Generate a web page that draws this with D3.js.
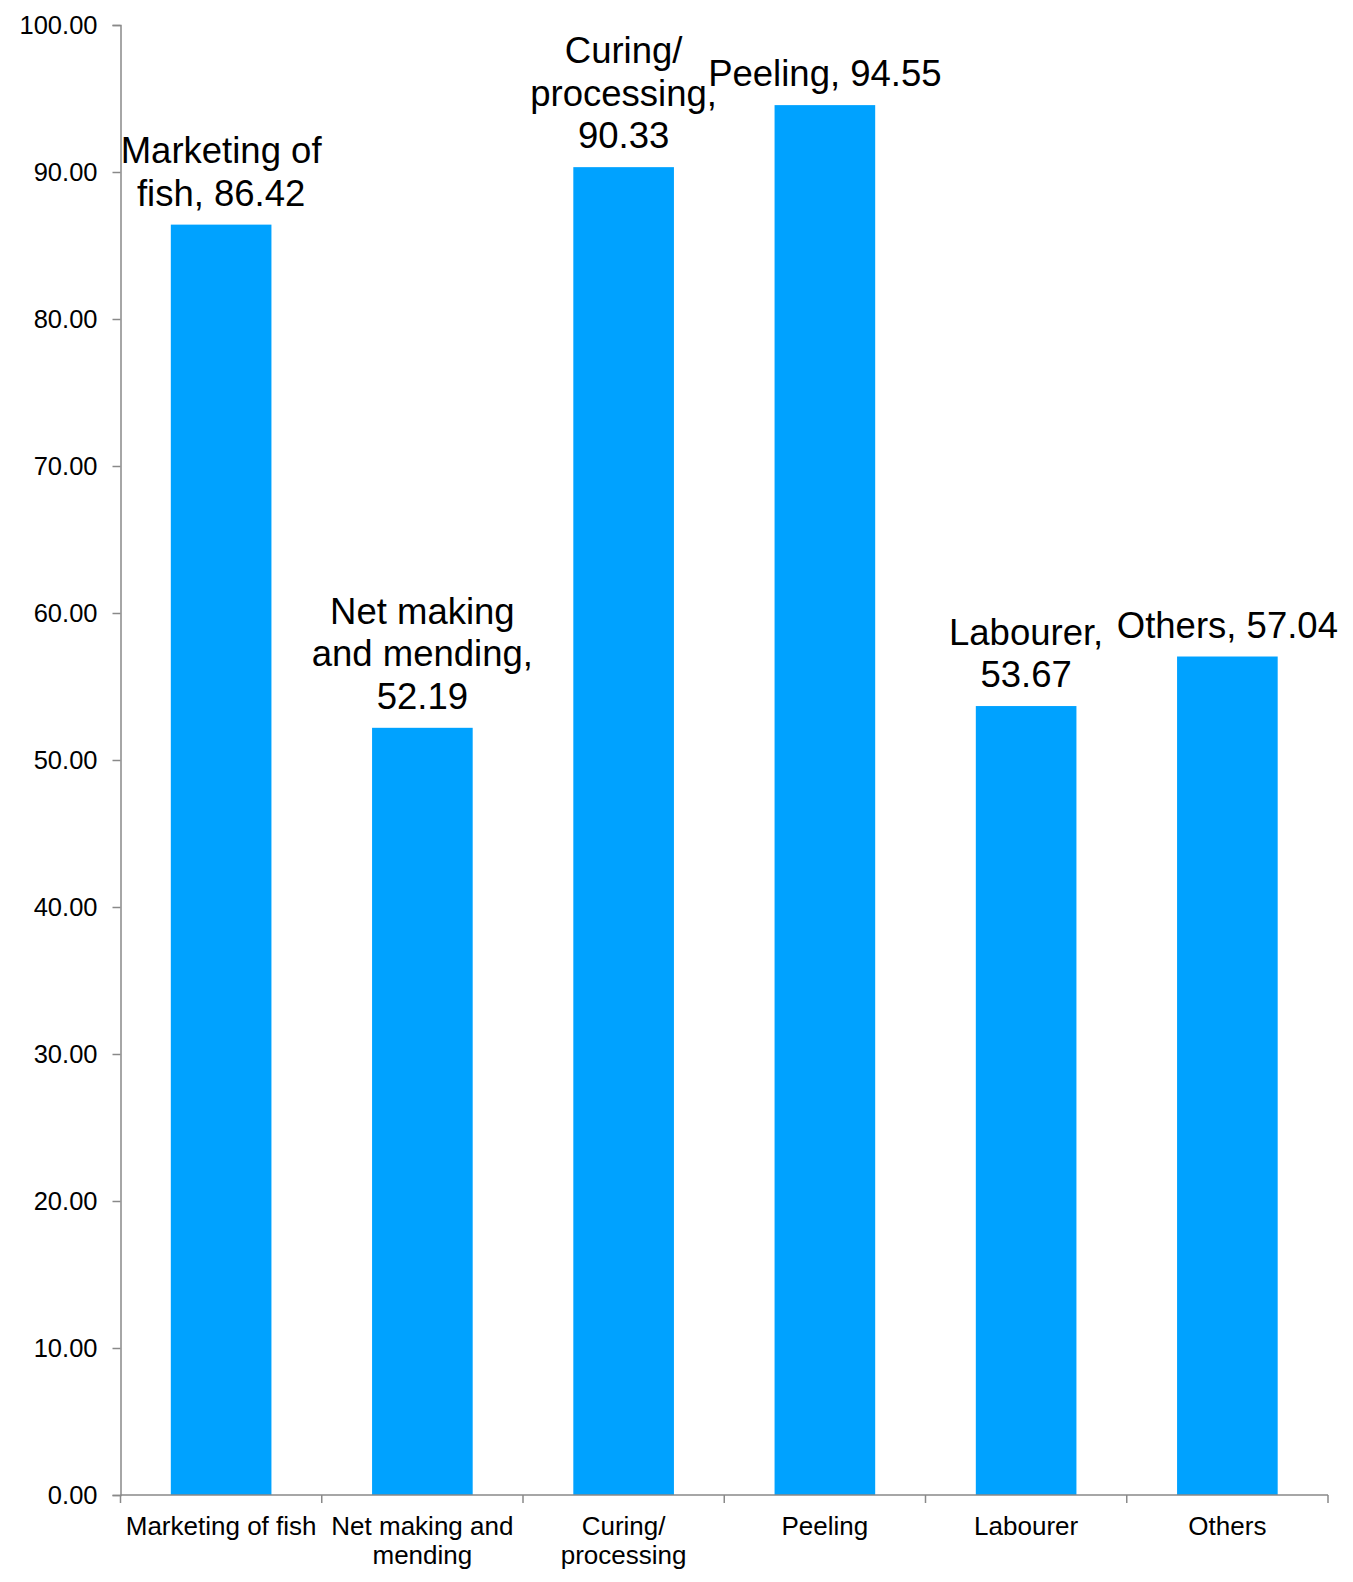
<!DOCTYPE html>
<html>
<head>
<meta charset="utf-8">
<script src="https://cdn.jsdelivr.net/npm/d3@7"></script>
<style>
  body { margin: 0; background: #ffffff; }
  text { font-family: "Liberation Sans", Arial, sans-serif; fill: #000; }
</style>
</head>
<body>
<svg id="chart" width="1353" height="1582"></svg>
<script>
// categories and values
const categories = ["Marketing of fish", "Net making and mending", "Curing/ processing", "Peeling", "Labourer", "Others"];
const values = [86.42, 52.19, 90.33, 94.55, 53.67, 57.04];
// data labels as the original wraps them
const labelLines = [
    ["Marketing of", "fish, 86.42"],
    ["Net making", "and mending,", "52.19"],
    ["Curing/", "processing,", "90.33"],
    ["Peeling, 94.55"],
    ["Labourer,", "53.67"],
    ["Others, 57.04"]
];
const yTicks = [0, 10, 20, 30, 40, 50, 60, 70, 80, 90, 100];

const svg = d3.select("#chart");
const margin = { left: 120.5, right: 25, top: 25, bottom: 87 };
const width = +svg.attr("width");
const height = +svg.attr("height");
const axisColor = "#898989";

const x = d3.scaleBand()
    .domain(categories)
    .range([margin.left, width - margin.right])
    .paddingInner(0.5)
    .paddingOuter(0.25);

const y = d3.scaleLinear()
    .domain([0, 100])
    .range([height - margin.bottom, margin.top]);

// bars
svg.selectAll(".bar")
    .data(values)
    .enter()
    .append("rect")
    .attr("class", "bar")
    .attr("x", (d, i) => x(categories[i]))
    .attr("y", d => y(d))
    .attr("width", x.bandwidth())
    .attr("height", d => y(0) - y(d))
    .style("fill", "#00A2FF");

// y axis
const yAxis = svg.append("g")
    .attr("transform", `translate(${margin.left},0)`)
    .call(d3.axisLeft(y).tickValues(yTicks).tickFormat(d3.format(".2f")).tickSize(8).tickSizeOuter(8));
yAxis.select(".domain").attr("stroke", axisColor).attr("stroke-width", 1.5);
yAxis.selectAll(".tick line").attr("stroke", axisColor).attr("stroke-width", 1.5);
yAxis.selectAll(".tick text")
    .attr("x", -23)
    .style("font-size", "25.5px")
    .style("font-family", "'Liberation Sans', Arial, sans-serif")
    .attr("fill", "#000");

// x axis: line plus ticks at category boundaries
const baseY = y(0);
const step = x.step();
const xStart = margin.left;
svg.append("line")
    .attr("x1", xStart).attr("x2", width - margin.right)
    .attr("y1", baseY).attr("y2", baseY)
    .attr("stroke", axisColor).attr("stroke-width", 1.5);
svg.selectAll(".xtick")
    .data(d3.range(categories.length + 1))
    .enter()
    .append("line")
    .attr("class", "xtick")
    .attr("x1", i => xStart + i * step)
    .attr("x2", i => xStart + i * step)
    .attr("y1", baseY)
    .attr("y2", baseY + 8)
    .attr("stroke", axisColor).attr("stroke-width", 1.5);

// category labels, wrapped to the band
function wrapWords(textSel, maxWidth, lineHeight) {
    textSel.each(function () {
        const t = d3.select(this);
        const words = t.text().split(/\s+/);
        t.text(null);
        let line = [];
        let tspan = t.append("tspan").attr("x", t.attr("x")).attr("dy", 0);
        words.forEach(w => {
            line.push(w);
            tspan.text(line.join(" "));
            if (tspan.node().getComputedTextLength() > maxWidth && line.length > 1) {
                line.pop();
                tspan.text(line.join(" "));
                line = [w];
                tspan = t.append("tspan").attr("x", t.attr("x")).attr("dy", lineHeight).text(w);
            }
        });
    });
}

svg.selectAll(".cat")
    .data(categories)
    .enter()
    .append("text")
    .attr("class", "cat")
    .attr("x", d => x(d) + x.bandwidth() / 2)
    .attr("y", baseY + 40)
    .attr("text-anchor", "middle")
    .style("font-size", "26px")
    .text(d => d)
    .call(wrapWords, 200, 29);

// data labels above bars
const lineH = 42.5;
svg.selectAll(".dlabel")
    .data(values)
    .enter()
    .append("text")
    .attr("class", "dlabel")
    .attr("text-anchor", "middle")
    .style("font-size", "36.5px")
    .each(function (d, i) {
        const lines = labelLines[i];
        const cx = x(categories[i]) + x.bandwidth() / 2;
        const lastBase = y(d) - 19;
        d3.select(this).selectAll("tspan")
            .data(lines)
            .enter()
            .append("tspan")
            .attr("x", cx)
            .attr("y", (l, j) => lastBase - (lines.length - 1 - j) * lineH)
            .text(l => l);
    });
</script>
</body>
</html>
